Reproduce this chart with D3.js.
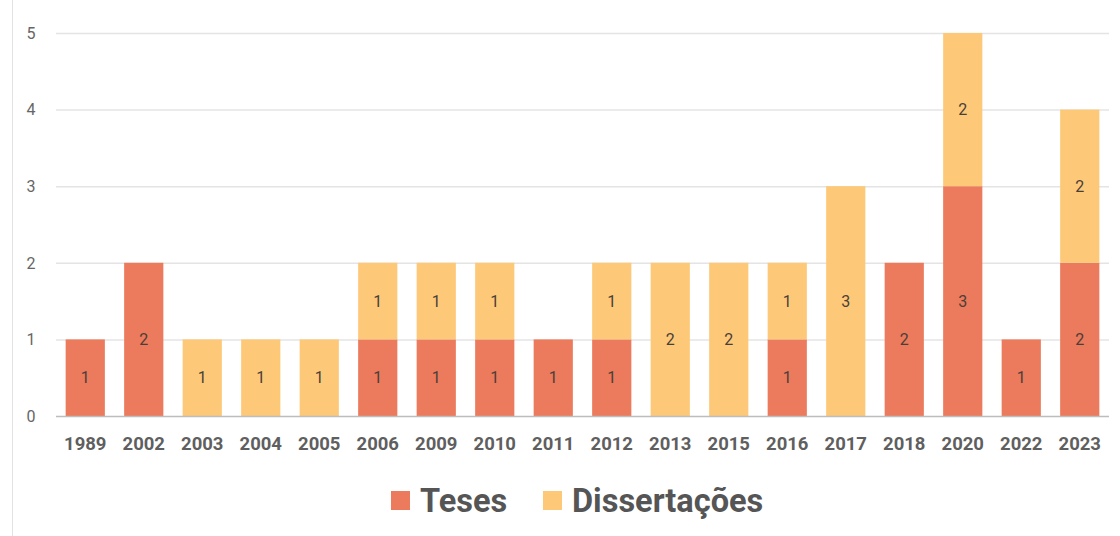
<!DOCTYPE html>
<html>
<head>
<meta charset="utf-8">
<script src="https://cdn.jsdelivr.net/npm/d3@7"></script>
<style>
  body { margin: 0; background: #fff; }
  svg { display: block; font-family: Roboto, "Noto Sans", sans-serif; }
</style>
</head>
<body>
<svg id="chart" width="1120" height="536"></svg>
<script>
const years = ["1989","2002","2003","2004","2005","2006","2009","2010","2011","2012","2013","2015","2016","2017","2018","2020","2022","2023"];
const teses = [1,2,0,0,0,1,1,1,1,1,0,0,1,0,2,3,1,2];
const dissertacoes = [0,0,1,1,1,1,1,1,0,1,2,2,1,3,0,2,0,2];
const yTicks = [0,1,2,3,4,5];
const seriesNames = ["Teses", "Dissertações"];
const colors = ["#ec7a5c", "#fdc978"];

const svg = d3.select("#chart");

// left border line
svg.append("line")
  .attr("x1", 12.5).attr("x2", 12.5)
  .attr("y1", 0).attr("y2", 536)
  .attr("stroke", "#e2e2e2");

const xScale = d3.scaleBand().domain(years).range([56, 1109]).paddingInner(0.33).paddingOuter(0.165);
const yScale = d3.scaleLinear().domain([0, 5]).range([416, 33]);

let table = years.map(function(y, i) { return { year: y, Teses: teses[i], "Dissertações": dissertacoes[i] }; });
let stacked = d3.stack().keys(seriesNames)(table);

// gridlines
svg.append("g")
  .selectAll("line")
  .data(yTicks.filter(function(d) { return d > 0; }))
  .enter()
  .append("line")
  .attr("x1", 56).attr("x2", 1109)
  .attr("y1", function(d) { return yScale(d) + 0.5; })
  .attr("y2", function(d) { return yScale(d) + 0.5; })
  .attr("stroke", "#e4e4e4")
  .attr("stroke-width", 1.5);

// y labels
svg.append("g")
  .selectAll("text")
  .data(yTicks)
  .enter()
  .append("text")
  .attr("x", 31)
  .attr("y", function(d) { return yScale(d); })
  .attr("dy", "0.36em")
  .attr("text-anchor", "middle")
  .attr("font-size", 16)
  .attr("fill", "#666")
  .text(function(d) { return d; });

// bars
let layers = svg.append("g")
  .selectAll("g")
  .data(stacked)
  .enter()
  .append("g")
  .attr("fill", function(d, i) { return colors[i]; });

layers.selectAll("rect")
  .data(function(d) { return d; })
  .enter()
  .append("rect")
  .attr("x", function(d) { return xScale(d.data.year); })
  .attr("width", xScale.bandwidth())
  .attr("y", function(d) { return yScale(d[1]); })
  .attr("height", function(d) { return yScale(d[0]) - yScale(d[1]); });

// value labels
layers.selectAll("text")
  .data(function(d) { return d.filter(function(p) { return p[1] - p[0] > 0; }); })
  .enter()
  .append("text")
  .attr("x", function(d) { return xScale(d.data.year) + xScale.bandwidth() / 2; })
  .attr("y", function(d) { return yScale((d[0] + d[1]) / 2); })
  .attr("dy", "0.36em")
  .attr("text-anchor", "middle")
  .attr("font-size", 16)
  .attr("fill", "#4a3f38")
  .text(function(d) { return d[1] - d[0]; });

// baseline
svg.append("line")
  .attr("x1", 56).attr("x2", 1109)
  .attr("y1", yScale(0) + 0.5).attr("y2", yScale(0) + 0.5)
  .attr("stroke", "#bdbdbd")
  .attr("stroke-width", 1.5);

// x labels
svg.append("g")
  .selectAll("text")
  .data(years)
  .enter()
  .append("text")
  .attr("x", function(d) { return xScale(d) + xScale.bandwidth() / 2; })
  .attr("y", 443)
  .attr("dy", "0.36em")
  .attr("text-anchor", "middle")
  .attr("font-size", 18.5)
  .attr("font-weight", "bold")
  .attr("fill", "#5f5f5f")
  .text(function(d) { return d; });

// legend
let legendX = [391, 543];
let legend = svg.append("g")
  .selectAll("g")
  .data(seriesNames)
  .enter()
  .append("g")
  .attr("transform", function(d, i) { return "translate(" + legendX[i] + ",500)"; });

legend.append("rect")
  .attr("x", 0).attr("y", -9)
  .attr("width", 19).attr("height", 19)
  .attr("fill", function(d, i) { return colors[i]; });

legend.append("text")
  .attr("x", 29)
  .attr("y", 0)
  .attr("dy", "0.36em")
  .attr("font-size", 32.5)
  .attr("font-weight", "bold")
  .attr("fill", "#555")
  .text(function(d) { return d; });
</script>
</body>
</html>
